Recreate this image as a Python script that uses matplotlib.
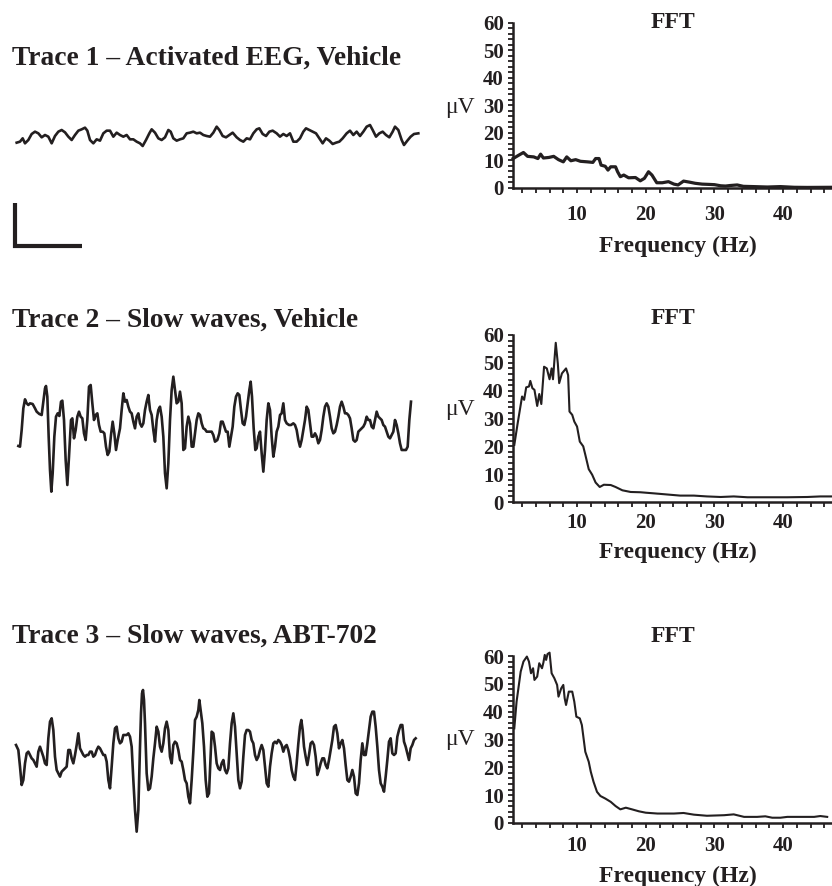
import numpy as np
import matplotlib.pyplot as plt
from matplotlib.ticker import MultipleLocator

plt.rcParams['font.family'] = ['Liberation Serif', 'DejaVu Serif']
plt.rcParams['font.weight'] = 'bold'
ink = '#231f20'

####EEG traces (time ms, amplitude uV)####
trace1 = np.array([
    [50, -18], [60, -15], [68, -5], [75, -20], [85, -10], [95, 8], [105, 15], [115, 10], [125, -2], [135, 5],
    [145, 0], [155, -20], [165, 2], [175, 15], [185, 20], [195, 13], [205, 0], [215, -10], [225, 5], [235, 18],
    [245, 22], [255, 27], [262, 18], [270, -10], [280, -20], [290, -8], [300, -12], [310, 10], [320, 18], [330, 18],
    [340, 0], [350, 12], [360, 5], [370, 0], [380, 5], [390, -8], [400, -8], [410, -15], [420, -20], [428, -28],
    [438, -10], [448, 10], [455, 22], [465, 12], [475, -5], [485, -10], [495, -2], [505, 20], [512, 15], [520, -5],
    [530, -12], [540, -8], [550, -5], [560, 10], [570, 12], [580, 15], [590, 10], [600, 12], [610, 5], [620, 2],
    [630, 0], [640, 12], [650, 30], [658, 20], [668, 2], [678, -2], [688, 5], [698, 12], [710, -2], [720, -10],
    [730, -15], [740, -5], [750, -8], [760, 10], [770, 22], [778, 25], [788, 8], [798, 2], [808, 15], [818, 18],
    [830, 10], [840, 0], [850, 8], [860, 2], [870, 10], [880, -15], [890, -15], [900, -5], [910, 15], [918, 25],
    [928, 20], [938, 15], [948, 10], [958, -5], [968, -20], [978, -5], [988, -12], [998, -22], [1008, -18], [1018, -15],
    [1028, -5], [1040, 10], [1050, 18], [1060, 5], [1070, 15], [1080, 2], [1090, 15], [1100, 30], [1110, 35], [1118, 20],
    [1128, 0], [1138, 10], [1148, 15], [1158, 5], [1168, -2], [1178, 15], [1185, 30], [1195, 20], [1205, -10], [1212, -25],
    [1222, -12], [1232, 0], [1242, 8], [1255, 10]])

trace2 = np.array([
    [55, -48], [60, -50], [65, 0], [70, 65], [75, 92], [80, 80], [85, 75], [90, 80], [98, 78], [105, 65],
    [110, 55], [118, 48], [125, 45], [130, 85], [135, 125], [138, 132], [142, 100], [146, -20], [150, -120], [154, -185],
    [158, -130], [163, -20], [168, 40], [173, 50], [178, 42], [183, 85], [187, 88], [192, 30], [197, -90], [202, -165],
    [207, -80], [213, 30], [217, 35], [222, -25], [227, 0], [232, 40], [237, 55], [242, 40], [247, 35], [252, -10],
    [257, -30], [262, 30], [267, 130], [272, 135], [277, 80], [282, 30], [287, 45], [292, 50], [297, 15], [302, -5],
    [308, -5], [313, -10], [318, -50], [323, -75], [328, -65], [333, -15], [338, 25], [343, -10], [348, -60], [353, -30],
    [360, 5], [365, 60], [370, 110], [375, 85], [380, 90], [385, 70], [390, 55], [395, 50], [400, 25], [405, 5],
    [410, 40], [415, 50], [420, 20], [425, 10], [430, 20], [435, 60], [440, 85], [445, 105], [450, 60], [455, 45],
    [460, 0], [465, -35], [470, 30], [475, 60], [480, 70], [485, 40], [490, -20], [495, -130], [500, -175], [505, -100],
    [510, 30], [515, 120], [520, 160], [525, 120], [530, 80], [535, 85], [540, 115], [545, 80], [550, -60], [555, -55],
    [560, 10], [565, 40], [570, 20], [575, -50], [580, -50], [585, -10], [590, 30], [595, 50], [600, 45], [605, 20],
    [610, 5], [615, 2], [620, -5], [628, -5],
    [635, -5], [640, -15], [645, -35], [652, -30], [658, -10], [663, 25], [668, 25], [673, 10], [678, -5], [683, -5],
    [688, -50], [693, -20], [698, 10], [703, 70], [708, 100], [713, 110], [718, 105], [723, 60], [728, 20], [733, 15],
    [738, 40], [743, 80], [748, 120], [752, 145], [756, 100], [761, 5], [766, -60], [770, -55], [775, -20], [780, -5],
    [785, -70], [790, -125], [795, -60], [800, 30], [805, 80], [810, 60], [815, -20], [820, -80], [825, -50], [830, -5],
    [835, 10], [840, 45], [845, 50], [850, 80], [855, 30], [860, 20], [867, 15], [873, 15], [880, 20], [885, 15],
    [890, 0], [895, -30], [900, -50], [905, -30], [910, 0], [915, 30], [920, 70], [925, 60], [930, 20], [935, -20],
    [940, -20], [945, -10], [950, -20], [955, -40], [960, -30], [965, 0], [970, 40], [975, 70], [980, 80], [985, 70],
    [990, 40], [995, 5], [1000, -10], [1005, -5], [1010, 15], [1015, 40], [1020, 70], [1025, 85], [1030, 70], [1035, 50],
    [1040, 50], [1045, 45], [1050, 35], [1055, 5], [1060, -30], [1065, -35], [1070, -30], [1075, -5], [1080, 0], [1085, 5],
    [1090, 10], [1095, 20], [1100, 40], [1105, 30], [1110, 30], [1115, 10], [1120, 5], [1125, 30], [1130, 55], [1135, 40],
    [1140, 35], [1145, 30], [1150, 15], [1155, 10], [1160, -5], [1165, -20], [1170, -25], [1175, -15], [1180, -5], [1185, 30],
    [1190, 15], [1195, -10], [1200, -40], [1205, -60], [1210, -60], [1218, -60], [1223, -50], [1228, 30], [1233, 85]])

trace3 = np.array([
    [48, 30], [55, 15], [60, -35], [65, -90], [70, -75], [75, -25], [80, 5], [85, 10], [90, 0], [95, -10],
    [100, -15], [105, -25], [110, -35], [115, 10], [120, 25], [125, 10], [130, -5], [135, -25], [140, -30], [145, 50],
    [150, 100], [155, 110], [160, 75], [165, -5], [170, -45], [175, -55], [180, -65], [185, -50], [190, -45], [195, -40],
    [200, -35], [205, 15], [210, 15], [215, -10], [220, -25], [225, 0], [230, 30], [235, 65], [240, 20], [245, 10],
    [250, 0], [255, -5], [260, 0], [265, 0], [270, 10], [275, 10], [280, -5], [285, 0], [290, 15], [295, 25],
    [300, 20], [305, 10], [310, 0], [315, 0], [320, -20], [325, -75], [330, -100], [335, -35], [340, 35], [345, 80],
    [350, 85], [355, 50], [360, 35], [365, 40], [370, 60], [375, 60], [380, 60], [385, 65], [390, 55], [395, 25],
    [400, -75], [405, -165], [410, -230], [415, -165], [420, 25], [423, 125], [426, 185], [429, 195], [432, 165], [435, 95],
    [440, -55], [445, -105], [450, -100], [455, -65], [460, -10], [465, 35], [470, 85], [475, 70], [480, 25], [485, 10],
    [490, 35], [495, 80], [500, 100], [505, 75], [510, -5], [515, -25], [520, 30], [525, 40], [530, 35], [535, 15],
    [540, -15], [545, -20], [550, -45], [555, -75], [560, -85], [565, -125], [570, -145], [575, -75], [580, 10], [585, 105],
    [590, 115], [595, 135], [598, 165], [602, 135], [607, 95], [612, 25], [617, -75], [622, -125], [627, -115],
    [635, 70], [640, 65], [645, 25], [650, -25], [655, -40], [660, -45], [665, -25], [670, -15], [675, -45], [680, -55],
    [685, -40], [690, 35], [695, 95], [700, 125], [705, 85], [710, 5], [715, -75], [720, -100], [725, -80], [730, -5],
    [735, 60], [740, 75], [745, 75], [750, 70], [755, 45], [760, 35], [765, 0], [770, -15], [775, -5], [780, 15],
    [785, 30], [790, 15], [795, -35], [800, -85], [805, -95], [810, -35], [815, 5], [820, 35], [825, 40], [830, 35],
    [835, 45], [840, 40], [845, 30], [850, 10], [855, 25], [860, 30], [865, 15], [870, -10], [875, -45], [880, -65],
    [885, -75], [890, -25], [895, 35], [900, 85], [904, 105], [908, 75], [912, 25], [917, -5], [922, -30], [927, 0],
    [932, 35], [937, 40], [942, 30], [947, -5], [952, -60], [957, -45], [962, -25], [967, -10], [972, -10], [977, -30],
    [982, -40], [987, -15], [992, 15], [997, 45], [1002, 85], [1007, 90], [1012, 65], [1017, 20], [1022, 35], [1027, 45],
    [1032, 20], [1037, -30], [1042, -75], [1047, -80], [1052, -65], [1057, -45], [1062, -65], [1067, -115], [1072, -120], [1077, -85],
    [1082, -15], [1087, 35], [1092, 0], [1097, 0], [1102, 35], [1107, 75], [1112, 115], [1117, 130], [1122, 130], [1127, 85],
    [1132, 25], [1137, -45], [1142, -85], [1147, -95], [1152, -110], [1157, -65], [1162, -15], [1167, 40], [1172, 50], [1177, 5],
    [1182, 0], [1187, 5], [1192, 55], [1197, 75], [1202, 90], [1207, 90], [1212, 40], [1217, 25], [1222, 5], [1227, -15],
    [1232, 20], [1237, 30], [1242, 45], [1247, 50]])

trace_titles = ['Trace 1 \u2013 Activated EEG, Vehicle',
                'Trace 2 \u2013 Slow waves, Vehicle',
                'Trace 3 \u2013 Slow waves, ABT-702']

scale_ms = 200
scale_uv = 130

####FFT spectra (Hz, uV)####
fft1 = np.array([
    [0.7, 10.6], [1.5, 11.8], [2.2, 12.8], [2.8, 11.4], [3.7, 11.2], [4.3, 10.6], [4.7, 12.2], [5.1, 10.8],
    [5.9, 11.0], [6.6, 11.4], [7.3, 10.2], [8.0, 9.4], [8.5, 11.2], [9.1, 9.8], [9.8, 10.2], [10.5, 9.6],
    [11.5, 9.4], [12.3, 9.2], [12.7, 10.6], [13.2, 10.6], [13.5, 8.2], [14.1, 7.8], [14.5, 6.4], [14.9, 7.6],
    [15.6, 7.6], [15.9, 5.8], [16.3, 4.0], [16.8, 4.6], [17.5, 3.6], [18.5, 3.7], [19.2, 2.5], [19.8, 3.4],
    [20.4, 5.8], [20.9, 4.6], [21.6, 1.8], [22.4, 1.8], [23.3, 2.2], [24.1, 1.3], [24.7, 1.0], [25.5, 2.4],
    [26.4, 2.0], [27.2, 1.6], [28.2, 1.3], [29.2, 1.2], [30.0, 1.1], [30.9, 0.7], [31.6, 0.6], [32.3, 0.8],
    [33.3, 1.0], [34.2, 0.5], [35.7, 0.4], [37.7, 0.25], [39.6, 0.4], [41.6, 0.15], [43.5, 0.1], [47.2, 0.15]])

fft2 = np.array([
    [0.87, 20.5], [1.36, 28.3], [2.0, 37.9], [2.3, 36.7], [2.6, 41.2], [3.0, 41.5], [3.2, 43.5], [3.5, 40.9],
    [3.8, 40.3], [4.2, 34.5], [4.5, 38.8], [4.8, 35.2], [5.2, 48.6], [5.6, 48.0], [6.0, 44.1], [6.3, 48.0],
    [6.5, 44.1], [6.9, 57.2], [7.2, 49.8], [7.4, 42.7], [7.8, 46.2], [8.4, 48.0], [8.7, 45.6], [8.9, 32.5],
    [9.3, 31.3], [9.6, 28.9], [10.0, 27.1], [10.4, 21.7], [10.9, 20.0], [11.2, 17.0], [11.7, 11.8], [12.2, 9.8],
    [12.7, 7.0], [13.3, 5.4], [13.9, 6.2], [14.9, 6.1], [15.6, 5.4], [16.6, 4.2], [17.8, 3.6], [19.2, 3.5],
    [21.2, 3.1], [23.1, 2.7], [25.0, 2.3], [27.0, 2.3], [28.9, 2.0], [30.9, 1.8], [32.8, 2.0], [34.8, 1.7],
    [37.7, 1.7], [40.6, 1.7], [43.5, 1.8], [45.4, 2.0], [47.2, 2.0]])

fft3 = np.array([
    [0.87, 34.0], [1.2, 43.6], [1.5, 49.0], [1.8, 54.4], [2.2, 58.0], [2.7, 59.8], [3.0, 58.0], [3.3, 53.8],
    [3.6, 55.6], [3.8, 51.4], [4.2, 52.6], [4.5, 57.4], [4.9, 55.6], [5.1, 57.6], [5.3, 60.4], [5.5, 58.6],
    [5.7, 60.7], [6.0, 61.2], [6.3, 53.8], [6.7, 52.0], [7.1, 49.6], [7.3, 45.4], [7.7, 48.4], [8.0, 49.6],
    [8.2, 44.8], [8.4, 42.4], [8.8, 47.2], [9.3, 47.2], [9.6, 43.6], [9.9, 38.2], [10.4, 37.6], [10.7, 35.2],
    [11.2, 25.6], [11.7, 22.0], [12.0, 18.4], [12.4, 14.8], [12.9, 11.2], [13.4, 9.7], [14.1, 8.8], [14.9, 7.6],
    [15.6, 6.1], [16.3, 4.9], [17.1, 5.5], [18.0, 4.9], [19.0, 4.2], [20.0, 3.7], [21.7, 3.4], [24.1, 3.4],
    [25.5, 3.6], [27.0, 3.0], [28.9, 2.6], [31.4, 2.8], [32.8, 3.1], [34.3, 2.2], [36.2, 2.2], [37.4, 2.4],
    [38.4, 1.9], [39.6, 1.9], [40.6, 2.2], [42.5, 2.2], [44.5, 2.2], [45.4, 2.5], [46.4, 2.2]])

####layout in pixels####
W, H = 832, 886
fig = plt.figure(figsize=(W / 100, H / 100), dpi=100)


def box(l, t, r, b):
    return [l / W, 1 - b / H, (r - l) / W, (b - t) / H]


trace_boxes = [(0, 20, 430, 260), (0, 340, 430, 520), (0, 660, 430, 850)]
trace_ylims = [(-370, 350), (-270, 270), (-285, 285)]
title_y = [58, 320, 636]

for tr, bx, yl, ttl, ty in zip([trace1, trace2, trace3], trace_boxes, trace_ylims, trace_titles, title_y):
    ax = fig.add_axes(box(*bx))
    ax.plot(tr[:, 0], tr[:, 1], color=ink, lw=1.9, solid_joinstyle='round')
    ax.set_xlim(0, 1290)
    ax.set_ylim(*yl)
    ax.axis('off')
    fig.text(12 / W, 1 - ty / H, ttl, fontsize=19.8, fontweight='bold', va='center', ha='left', color=ink)
    if tr is trace1:
        # scale bar
        ax.plot([45, 45, 45 + scale_ms], [-328 + scale_uv, -328, -328], color=ink, lw=3.0,
                solid_joinstyle='miter', solid_capstyle='butt', clip_on=False)

fft_boxes = [(513, 22.7, 832, 187.7), (513, 335, 832, 502), (513, 656, 832, 823)]
fft_lw = [2.3, 1.5, 1.5]
fft_title_y = [22, 318, 637]
tick_pad = [8.5, 4.0, 5.5]
xlabel_off = [59, 50, 53]
uv_y = [108, 410, 740]

for sp, bx, lw, fty, tp, xo, uy in zip([fft1, fft2, fft3], fft_boxes, fft_lw, fft_title_y,
                                       tick_pad, xlabel_off, uv_y):
    ax = fig.add_axes(box(*bx))
    ax.plot(sp[:, 0], sp[:, 1], color=ink, lw=lw, clip_on=False)
    ax.set_xlim(0.68, 47.1)
    ax.set_ylim(0, 60)
    for s in ['top', 'right']:
        ax.spines[s].set_visible(False)
    for s in ['left', 'bottom']:
        ax.spines[s].set_linewidth(1.8)
        ax.spines[s].set_color(ink)
    ax.xaxis.set_major_locator(MultipleLocator(10))
    ax.xaxis.set_minor_locator(MultipleLocator(2))
    ax.yaxis.set_major_locator(MultipleLocator(10))
    ax.yaxis.set_minor_locator(MultipleLocator(2))
    ax.tick_params(which='both', direction='out', length=3.6, width=1.3, color=ink,
                   labelsize=15, labelcolor=ink)
    ax.tick_params(axis='x', pad=tp)
    ax.tick_params(axis='y', pad=3)
    for lab in ax.get_xticklabels() + ax.get_yticklabels():
        lab.set_fontweight('bold')
    ph = bx[3] - bx[1]
    ax.set_xlabel('Frequency (Hz)', fontsize=17, fontweight='bold', color=ink, va='center')
    ax.xaxis.set_label_coords((678 - 513) / 319, -xo / ph)
    ax.text(0.5, 1 - (fty - bx[1]) / ph, 'FFT', transform=ax.transAxes, fontsize=17,
            fontweight='bold', ha='center', va='center', color=ink)
    fig.text(460 / W, 1 - uy / H, '\u03bcV', fontsize=17, fontweight='normal',
             ha='center', va='center', color=ink)

plt.savefig('out.png', dpi=100)
